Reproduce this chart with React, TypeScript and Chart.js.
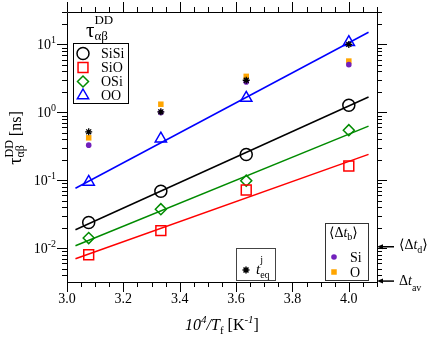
import React, { useEffect, useRef } from 'react';
import { Chart, registerables } from 'chart.js';

Chart.register(...registerables);

// ---- data ----
const TF_X = [3.077, 3.333, 3.636, 4.0]; // 10^4 / T_f
const SISI = [0.024, 0.0692, 0.241, 1.276];
const SIO = [0.00805, 0.01824, 0.0723, 0.1626];
const OSI = [0.01416, 0.0377, 0.099, 0.548];
const OO = [0.0948, 0.411, 1.63, 10.8];
const FIT_X = [3.03, 4.07];
const FIT_SISI = [0.01875, 1.687];
const FIT_SIO = [0.00704, 0.2414];
const FIT_OSI = [0.01092, 0.628];
const FIT_OO = [0.0766, 15.1];
const T_EQ = [0.518, 1.02, 2.97, 10.0];
const DTB_SI = [0.33, 1.0, 2.8, 5.04];
const DTB_O = [0.423, 1.32, 3.39, 5.69];
const X_TICKS = [3.0, 3.2, 3.4, 3.6, 3.8, 4.0];
const Y_TICKS = [0.01, 0.1, 1, 10];
const Y_TICK_EXP = ['-2', '-1', '0', '1'];
const X_MIN = 3.0;
const X_MAX = 4.1;
const Y_MIN = 0.0032;
const Y_MAX = 30;
const ARROW_DTD = 0.01056;
const ARROW_DTAV = 0.0033;

const C_SISI = '#000000';
const C_SIO = '#ff0000';
const C_OSI = '#008b00';
const C_OO = '#0000ff';
const C_SI = '#7221bc';
const C_O = '#ffa500';

const SERIF = '"Liberation Serif", "Times New Roman", "DejaVu Serif", serif';
const fnt = (size: number, italic = false) => `${italic ? 'italic ' : ''}${size}px ${SERIF}`;

type Seg = { t: string; font: string; dy?: number; stack?: boolean };

function drawRich(ctx: CanvasRenderingContext2D, segs: Seg[], x: number, y: number, align: 'left' | 'center' | 'right') {
  const starts: number[] = [];
  let cur = 0;
  let prevStart = 0;
  for (const s of segs) {
    ctx.font = s.font;
    const w = ctx.measureText(s.t).width;
    const st = s.stack ? prevStart : cur;
    starts.push(st);
    prevStart = st;
    cur = Math.max(cur, st + w);
  }
  const x0 = align === 'left' ? x : align === 'center' ? x - cur / 2 : x - cur;
  ctx.textAlign = 'left';
  ctx.textBaseline = 'alphabetic';
  segs.forEach((s, i) => {
    ctx.font = s.font;
    ctx.fillText(s.t, x0 + starts[i], y + (s.dy || 0));
  });
  return cur;
}

function marker(ctx: CanvasRenderingContext2D, style: string, x: number, y: number, r: number, color: string, filled = false) {
  ctx.save();
  ctx.strokeStyle = color;
  ctx.fillStyle = color;
  ctx.lineWidth = 1.5;
  ctx.beginPath();
  if (style === 'circle') {
    ctx.arc(x, y, r, 0, Math.PI * 2);
  } else if (style === 'rect') {
    const s = Math.SQRT1_2 * r;
    ctx.rect(x - s, y - s, 2 * s, 2 * s);
  } else if (style === 'rectRot') {
    ctx.moveTo(x - r, y);
    ctx.lineTo(x, y - r);
    ctx.lineTo(x + r, y);
    ctx.lineTo(x, y + r);
    ctx.closePath();
  } else if (style === 'triangle') {
    ctx.moveTo(x, y - r);
    ctx.lineTo(x + 0.866 * r, y + 0.5 * r);
    ctx.lineTo(x - 0.866 * r, y + 0.5 * r);
    ctx.closePath();
  } else if (style === 'star') {
    ctx.moveTo(x - r, y); ctx.lineTo(x + r, y);
    ctx.moveTo(x, y - r); ctx.lineTo(x, y + r);
    const d = r * Math.SQRT1_2;
    ctx.moveTo(x - d, y - d); ctx.lineTo(x + d, y + d);
    ctx.moveTo(x - d, y + d); ctx.lineTo(x + d, y - d);
  }
  if (filled) ctx.fill(); else ctx.stroke();
  ctx.restore();
}

const MAJ = 10;
const MINL = 5;

const framePlugin = {
  id: 'frameAndText',
  afterDraw(chart: any) {
    const ctx = chart.ctx as CanvasRenderingContext2D;
    const xs = chart.scales.x;
    const ys = chart.scales.y;
    const { left, right, top, bottom } = chart.chartArea;
    const p = (v: number) => Math.round(v) + 0.5;
    ctx.save();
    ctx.strokeStyle = '#000';
    ctx.fillStyle = '#000';
    ctx.lineWidth = 1;
    // frame
    ctx.beginPath();
    ctx.rect(p(left), p(top), Math.round(right) - Math.round(left), Math.round(bottom) - Math.round(top));
    ctx.stroke();
    // ticks
    ctx.beginPath();
    const nx = Math.round((X_MAX - X_MIN) / 0.05);
    for (let i = 0; i <= nx; i++) {
      const v = X_MIN + i * 0.05;
      const major = i % 4 === 0 && v <= 4.0001;
      const px = p(xs.getPixelForValue(v));
      const len = major ? MAJ : MINL;
      ctx.moveTo(px, Math.round(bottom)); ctx.lineTo(px, Math.round(bottom) + len);
      ctx.moveTo(px, Math.round(top)); ctx.lineTo(px, Math.round(top) - len);
    }
    for (let e = -3; e <= 1; e++) {
      for (let k = 1; k <= 9; k++) {
        const v = k * Math.pow(10, e);
        if (v < Y_MIN || v > Y_MAX) continue;
        const py = p(ys.getPixelForValue(v));
        const len = k === 1 ? MAJ : MINL;
        ctx.moveTo(Math.round(left), py); ctx.lineTo(Math.round(left) - len, py);
        ctx.moveTo(Math.round(right), py); ctx.lineTo(Math.round(right) + len, py);
      }
    }
    ctx.stroke();

    // x tick labels
    X_TICKS.forEach((v) => {
      drawRich(ctx, [{ t: v.toFixed(1), font: fnt(14) }], xs.getPixelForValue(v), 303, 'center');
    });
    // y tick labels
    Y_TICKS.forEach((v, i) => {
      const py = ys.getPixelForValue(v);
      drawRich(ctx, [
        { t: '10', font: fnt(14) },
        { t: Y_TICK_EXP[i], font: fnt(10), dy: -6 },
      ], 56, py + 5, 'right');
    });

    // x title
    drawRich(ctx, [
      { t: '10', font: fnt(16, true) },
      { t: '4', font: fnt(11, true), dy: -7 },
      { t: '/T', font: fnt(16, true) },
      { t: 'f', font: fnt(11), dy: 4 },
      { t: ' [K', font: fnt(16) },
      { t: '-1', font: fnt(11, true), dy: -7 },
      { t: ']', font: fnt(16) },
    ], (left + right) / 2, 330, 'center');

    // y title (rotated)
    ctx.save();
    ctx.translate(21, 138);
    ctx.rotate(-Math.PI / 2);
    drawRich(ctx, [
      { t: 'τ', font: fnt(18) },
      { t: 'DD', font: fnt(12), dy: -8 },
      { t: 'αβ', font: fnt(12), dy: 3, stack: true },
      { t: ' [ns]', font: fnt(16) },
    ], 0, 0, 'center');
    ctx.restore();

    // legend title
    drawRich(ctx, [
      { t: 'τ', font: fnt(21) },
      { t: 'DD', font: fnt(13), dy: -13 },
      { t: 'αβ', font: fnt(13), dy: 3, stack: true },
    ], 86, 37, 'left');

    // main legend box
    ctx.strokeStyle = '#000';
    ctx.lineWidth = 1;
    ctx.strokeRect(73.5, 43.5, 55, 60);
    const rows: [string, string, string, number][] = [
      ['circle', C_SISI, 'SiSi', 6],
      ['rect', C_SIO, 'SiO', 7],
      ['rectRot', C_OSI, 'OSi', 5.5],
      ['triangle', C_OO, 'OO', 6.5],
    ];
    rows.forEach(([st, col, lab, r], i) => {
      const base = 58 + i * 14;
      marker(ctx, st, 83, base - 4.5, r, col);
      ctx.fillStyle = '#000';
      drawRich(ctx, [{ t: lab, font: fnt(14) }], 101, base, 'left');
    });

    // <Δt_b> legend box
    ctx.strokeStyle = '#333';
    ctx.strokeRect(325.5, 223.5, 43, 57);
    ctx.fillStyle = '#000';
    drawRich(ctx, [
      { t: '⟨', font: fnt(14) },
      { t: 'Δ', font: fnt(14) },
      { t: 't', font: fnt(14, true) },
      { t: 'b', font: fnt(10), dy: 3 },
      { t: '⟩', font: fnt(14) },
    ], 329, 237, 'left');
    marker(ctx, 'circle', 334, 257, 2.8, C_SI, true);
    ctx.fillStyle = '#000';
    drawRich(ctx, [{ t: 'Si', font: fnt(14) }], 350, 262, 'left');
    marker(ctx, 'rect', 334, 272, 3.9, C_O, true);
    ctx.fillStyle = '#000';
    drawRich(ctx, [{ t: 'O', font: fnt(14) }], 350, 277, 'left');

    // t_eq box
    ctx.strokeStyle = '#444';
    ctx.strokeRect(236.5, 248.5, 39, 32);
    marker(ctx, 'star', 246, 270, 3.5, '#000');
    ctx.fillStyle = '#000';
    drawRich(ctx, [
      { t: 't', font: fnt(15, true) },
      { t: 'j', font: fnt(10), dy: -11 },
      { t: 'eq', font: fnt(10), dy: 4, stack: true },
    ], 256, 274, 'left');

    // right-side arrows
    const arrows: [number, Seg[], number][] = [
      [ARROW_DTD, [
        { t: '⟨', font: fnt(14) },
        { t: 'Δ', font: fnt(14) },
        { t: 't', font: fnt(14, true) },
        { t: 'd', font: fnt(10), dy: 4 },
        { t: '⟩', font: fnt(14) },
      ], 2],
      [ARROW_DTAV, [
        { t: 'Δ', font: fnt(14) },
        { t: 't', font: fnt(14, true) },
        { t: 'av', font: fnt(10), dy: 6 },
      ], 4],
    ];
    arrows.forEach(([val, segs, off]) => {
      const py = ys.getPixelForValue(val);
      const rx = Math.round(right);
      ctx.strokeStyle = '#000';
      ctx.fillStyle = '#000';
      ctx.lineWidth = 1.5;
      ctx.beginPath();
      ctx.moveTo(rx + 4, py);
      ctx.lineTo(rx + 17, py);
      ctx.stroke();
      ctx.beginPath();
      ctx.moveTo(rx, py);
      ctx.lineTo(rx + 6, py - 2.5);
      ctx.lineTo(rx + 6, py + 2.5);
      ctx.closePath();
      ctx.fill();
      drawRich(ctx, segs, 399, py + off, 'left');
    });
    ctx.restore();
  },
};

const pts = (ys: number[]) => TF_X.map((x, i) => ({ x, y: ys[i] }));
const fit = (ys: number[]) => FIT_X.map((x, i) => ({ x, y: ys[i] }));

export default function App() {
  const ref = useRef<HTMLCanvasElement>(null);
  useEffect(() => {
    document.body.style.margin = '0';
    const c = ref.current;
    if (!c) return;
    const mk = (data: number[], style: string, r: number, color: string) => ({
      data: pts(data),
      showLine: false,
      pointStyle: style,
      pointRadius: r,
      pointHoverRadius: r,
      borderColor: color,
      backgroundColor: 'rgba(0,0,0,0)',
      pointBorderWidth: 1.5,
      borderWidth: 1.5,
    });
    const ln = (data: number[], color: string) => ({
      data: fit(data),
      showLine: true,
      pointRadius: 0,
      pointHoverRadius: 0,
      borderColor: color,
      borderWidth: 1.5,
      fill: false,
      tension: 0,
    });
    const chart = new Chart(c, {
      type: 'scatter',
      data: {
        datasets: [
          {
            data: pts(T_EQ), showLine: false, pointStyle: 'star', pointRadius: 3.5, pointHoverRadius: 3.5,
            borderColor: '#000', backgroundColor: '#000', pointBorderWidth: 1.3, borderWidth: 1.3,
          },
          {
            data: pts(DTB_SI), showLine: false, pointStyle: 'circle', pointRadius: 2.8, pointHoverRadius: 2.8,
            borderColor: C_SI, backgroundColor: C_SI, pointBorderWidth: 0, borderWidth: 0,
          },
          {
            data: pts(DTB_O), showLine: false, pointStyle: 'rect', pointRadius: 3.9, pointHoverRadius: 3.9,
            borderColor: C_O, backgroundColor: C_O, pointBorderWidth: 0, borderWidth: 0,
          },
          mk(SISI, 'circle', 6, C_SISI),
          mk(SIO, 'rect', 7, C_SIO),
          mk(OSI, 'rectRot', 5.5, C_OSI),
          mk(OO, 'triangle', 6.5, C_OO),
          ln(FIT_SISI, C_SISI),
          ln(FIT_SIO, C_SIO),
          ln(FIT_OSI, C_OSI),
          ln(FIT_OO, C_OO),
        ] as any,
      },
      options: {
        responsive: false,
        maintainAspectRatio: false,
        devicePixelRatio: 1,
        animation: false,
        events: [],
        layout: { padding: { left: 67, right: 52, top: 12, bottom: 55 } },
        scales: {
          x: { type: 'linear', min: X_MIN, max: X_MAX, display: false, bounds: 'data' },
          y: { type: 'logarithmic', min: Y_MIN, max: Y_MAX, display: false, bounds: 'data' },
        },
        plugins: { legend: { display: false }, tooltip: { enabled: false } },
      } as any,
      plugins: [framePlugin],
    });
    return () => chart.destroy();
  }, []);
  return (
    <div style={{ width: 429, height: 337, background: '#fff' }}>
      <canvas ref={ref} width={429} height={337} style={{ display: 'block' }} />
    </div>
  );
}
